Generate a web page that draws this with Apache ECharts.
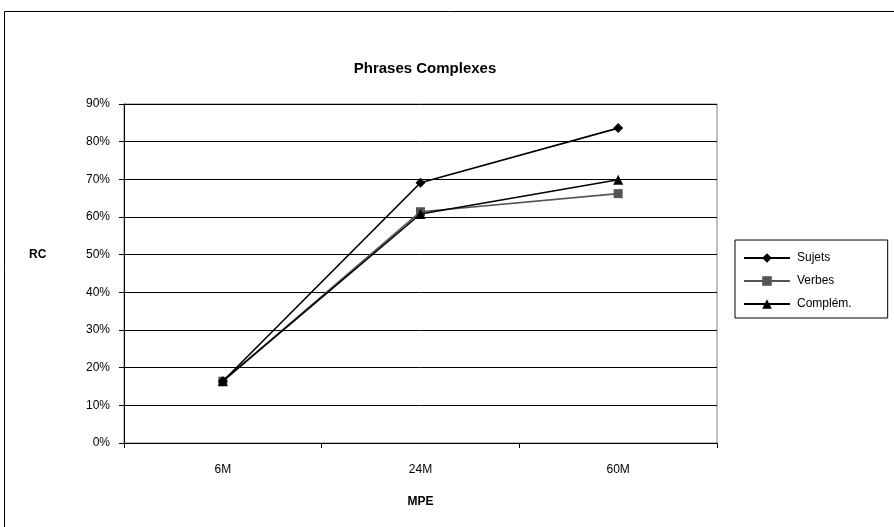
<!DOCTYPE html>
<html>
<head>
<meta charset="utf-8">
<script src="https://cdn.jsdelivr.net/npm/echarts@6/dist/echarts.min.js"></script>
<style>
  html, body { margin: 0; padding: 0; background: #fff; }
  #chart { width: 894px; height: 527px; }
</style>
</head>
<body>
<div id="chart"></div>
<script>
// Age groups on the horizontal axis
const categories = ['6M', '24M', '60M'];
// RC scores (%) per sentence part
const sujets = [16.4, 69.1, 83.6];
const verbes = [16.4, 61.4, 66.2];
const complements = [16.4, 60.8, 69.9];

const FONT = 'Liberation Sans, Arial, sans-serif';

const chart = echarts.init(document.getElementById('chart'), null, { renderer: 'canvas' });

chart.setOption({
  animation: false,
  backgroundColor: '#ffffff',
  textStyle: { fontFamily: FONT, color: '#000' },
  graphic: [
    {
      // outer chart frame
      type: 'rect',
      shape: { x: 4.5, y: 11.5, width: 1000, height: 1000 },
      style: { fill: 'none', stroke: '#000', lineWidth: 1 },
      silent: true,
      z: 0
    },
    {
      // value axis title, level with the 50% line
      type: 'text',
      left: 29,
      top: 249,
      style: { text: 'RC', font: 'bold 12px ' + FONT, fill: '#000' },
      silent: true
    }
  ],
  title: {
    text: 'Phrases Complexes',
    left: 420,
    textAlign: 'center',
    top: 56,
    textStyle: { fontFamily: FONT, fontSize: 15, fontWeight: 'bold', color: '#000' }
  },
  legend: {
    orient: 'vertical',
    left: 735,
    top: 240,
    padding: [12, 36, 8, 8],
    itemGap: 11,
    itemWidth: 46,
    itemHeight: 12,
    borderColor: '#000',
    borderWidth: 1,
    textStyle: { fontFamily: FONT, fontSize: 12, color: '#000', padding: [0, 0, 0, 2] },
    data: ['Sujets', 'Verbes', 'Complém.']
  },
  grid: {
    left: 124,
    right: 177,
    top: 104,
    bottom: 84,
    show: true,
    borderColor: '#808080',
    borderWidth: 1,
    containLabel: false
  },
  xAxis: {
    type: 'category',
    data: categories,
    boundaryGap: true,
    name: 'MPE',
    nameLocation: 'middle',
    nameGap: 53,
    nameTextStyle: { fontFamily: FONT, fontSize: 12, fontWeight: 'bold', color: '#000' },
    axisLine: { lineStyle: { color: '#000', width: 1 } },
    axisTick: { show: true, length: 5, inside: false, lineStyle: { color: '#000' } },
    axisLabel: { fontFamily: FONT, fontSize: 12, color: '#000', margin: 21 },
    splitLine: { show: false }
  },
  yAxis: {
    type: 'value',
    min: 0,
    max: 90,
    interval: 10,
    axisLine: { show: true, lineStyle: { color: '#000', width: 1 } },
    axisTick: { show: true, length: 5, inside: false, lineStyle: { color: '#000' } },
    axisLabel: { fontFamily: FONT, fontSize: 12, color: '#000', margin: 14, formatter: v => v + '%' },
    splitLine: { show: true, lineStyle: { color: '#000', width: 1 } }
  },
  series: [
    {
      name: 'Sujets',
      type: 'line',
      data: sujets,
      symbol: 'diamond',
      symbolSize: 10,
      lineStyle: { color: '#000', width: 1.6 },
      itemStyle: { color: '#000' },
      z: 3
    },
    {
      name: 'Verbes',
      type: 'line',
      data: verbes,
      symbol: 'rect',
      symbolSize: 9,
      lineStyle: { color: '#555', width: 1.6 },
      itemStyle: { color: '#555' },
      z: 2
    },
    {
      name: 'Complém.',
      type: 'line',
      data: complements,
      symbol: 'triangle',
      symbolSize: 10,
      lineStyle: { color: '#000', width: 1.6 },
      itemStyle: { color: '#000' },
      z: 4
    }
  ]
});
</script>
</body>
</html>
